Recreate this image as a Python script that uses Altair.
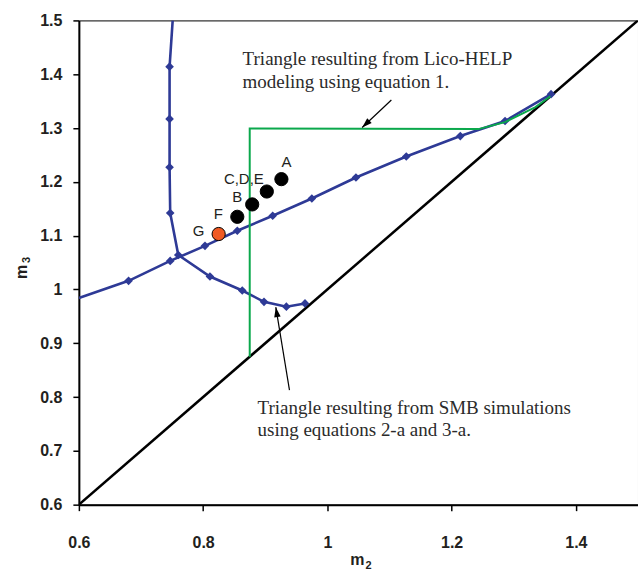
import math
import altair as alt
import pandas as pd

# ---------------- data ----------------
x_ticks = [0.6, 0.8, 1.0, 1.2, 1.4]
y_ticks = [0.6, 0.7, 0.8, 0.9, 1.0, 1.1, 1.2, 1.3, 1.4, 1.5]

# SMB-simulation triangle (blue, diamond markers)
left_m2 = [0.751, 0.746, 0.746, 0.746, 0.747, 0.760]
left_m3 = [1.500, 1.414, 1.317, 1.227, 1.142, 1.064]

mid_m2 = [0.600, 0.680, 0.747, 0.803, 0.855, 0.912, 0.975, 1.046, 1.127, 1.214, 1.286, 1.360]
mid_m3 = [0.984, 1.016, 1.053, 1.081, 1.109, 1.137, 1.169, 1.208, 1.247, 1.285, 1.313, 1.363]

low_m2 = [0.760, 0.811, 0.863, 0.898, 0.934, 0.964]
low_m3 = [1.064, 1.024, 0.998, 0.977, 0.968, 0.974]

# Lico-HELP triangle (green)
green_m2 = [0.875, 0.875, 1.243, 1.286, 1.335, 1.359]
green_m3 = [0.875, 1.299, 1.298, 1.311, 1.339, 1.359]

# diagonal m3 = m2
diag_m2 = [0.6, 1.5]
diag_m3 = [0.6, 1.5]

# operating points
pt_labels = ["A", "C,D,E", "B", "F", "G"]
pt_m2 = [0.926, 0.9025, 0.879, 0.855, 0.825]
pt_m3 = [1.205, 1.182, 1.158, 1.135, 1.103]
pt_kind = ["exp", "exp", "exp", "exp", "G"]

# annotation arrows (tail -> tip)
arrow_tail_m2 = [1.103, 0.939]
arrow_tail_m3 = [1.352, 0.813]
arrow_tip_m2 = [1.056, 0.917]
arrow_tip_m3 = [1.301, 0.967]

note1 = ["Triangle resulting from Lico-HELP", "modeling using equation 1."]
note2 = ["Triangle resulting from SMB simulations", "using equations 2-a and 3-a."]

x_title, x_sub = "m", "2"
y_title, y_sub = "m", "3"

# ---------------- styles ----------------
W, H = 560, 485
PAD_L, PAD_T = 79, 20
BLUE = "#2E3A96"
GREEN = "#0BA84C"
ORANGE = "#F05A24"
TXT = "#231F20"
label_offsets = {"A": (5, -17), "C,D,E": (-23, -13), "B": (-15, -7), "F": (-19, -3), "G": (-20, -3)}

# ---------------- tables ----------------
rows = []
for name, xs, ys in [("left", left_m2, left_m3), ("mid", mid_m2, mid_m3), ("low", low_m2, low_m3)]:
    for i, (a, b) in enumerate(zip(xs, ys)):
        rows.append({"series": name, "idx": i, "m2": a, "m3": b})
blue_df = pd.DataFrame(rows)

mrows = []
for xs, ys in [(left_m2[1:], left_m3[1:]), (mid_m2[1:], mid_m3[1:]), (low_m2[1:], low_m3[1:])]:
    for a, b in zip(xs, ys):
        mrows.append({"m2": a, "m3": b})
marker_df = pd.DataFrame(mrows)

green_df = pd.DataFrame({"idx": list(range(len(green_m2))), "m2": green_m2, "m3": green_m3})
diag_df = pd.DataFrame({"m2": diag_m2, "m3": diag_m3})
pts_df = pd.DataFrame({"label": pt_labels, "m2": pt_m2, "m3": pt_m3, "kind": pt_kind})

sx, sy = W / 0.9, H / 0.9
arr_rows, head_rows = [], []
for tx, ty, hx, hy in zip(arrow_tail_m2, arrow_tail_m3, arrow_tip_m2, arrow_tip_m3):
    arr_rows.append({"m2": tx, "m3": ty, "m2b": hx, "m3b": hy})
    dxp = (hx - tx) * sx
    dyp = -(hy - ty) * sy
    L = math.hypot(dxp, dyp)
    ux, uy = dxp / L, dyp / L
    ang = math.degrees(math.atan2(ux, -uy)) % 360
    back = 5
    head_rows.append({"m2": hx - back * ux / sx, "m3": hy + back * uy / sy, "ang": ang})
arr_df = pd.DataFrame(arr_rows)
head_df = pd.DataFrame(head_rows)

# ---------------- encodings ----------------
X = alt.X("m2:Q", scale=alt.Scale(domain=[0.6, 1.5], nice=False, zero=False),
          axis=alt.Axis(values=x_ticks, format="~g", title=None, labelPadding=24,
                        tickSize=6, labelFlush=False))
Y = alt.Y("m3:Q", scale=alt.Scale(domain=[0.6, 1.5], nice=False, zero=False),
          axis=alt.Axis(values=y_ticks, format="~g", title=None, labelPadding=11,
                        tickSize=6, labelFlush=False))

diag = alt.Chart(diag_df).mark_line(color="black", strokeWidth=2.5, clip=True).encode(x=X, y=Y)

blue = alt.Chart(blue_df).mark_line(color=BLUE, strokeWidth=2.6, clip=True).encode(
    x=X, y=Y, detail="series:N", order="idx:Q")
markers = alt.Chart(marker_df).mark_point(shape="diamond", filled=True, color=BLUE,
                                          size=75, opacity=1).encode(x=X, y=Y)
green = alt.Chart(green_df).mark_line(color=GREEN, strokeWidth=2, clip=True).encode(
    x=X, y=Y, order="idx:Q")

pts = alt.Chart(pts_df).mark_point(filled=True, size=175, stroke="black", strokeWidth=1,
                                   opacity=1, shape="circle").encode(
    x=X, y=Y,
    fill=alt.Fill("kind:N", scale=alt.Scale(domain=["exp", "G"], range=["black", ORANGE]), legend=None))

labels = []
for lab in pt_labels:
    dx, dy = label_offsets[lab]
    labels.append(
        alt.Chart(pts_df).transform_filter(alt.datum.label == lab).mark_text(
            font="Liberation Sans", fontSize=15, color=TXT, dx=dx, dy=dy,
            align="center", baseline="middle").encode(x=X, y=Y, text="label:N"))

arrows = alt.Chart(arr_df).mark_rule(color="black", strokeWidth=1.2).encode(
    x=X, y=Y, x2="m2b:Q", y2="m3b:Q")
heads = alt.Chart(head_df).mark_point(shape="M0,-1L-0.65,1L0.65,1Z", filled=True, color="black",
                                      size=100, opacity=1).encode(
    x=X, y=Y, angle=alt.Angle("ang:Q", scale=None))

notes = []
for lines, x0, y0 in [(note1, 243, 65), (note2, 258, 414)]:
    for k, t in enumerate(lines):
        notes.append(alt.Chart(pd.DataFrame({"t": [t]})).mark_text(
            font="Liberation Serif", fontSize=19, color="#2b2b2b", align="left",
            baseline="alphabetic").encode(
            x=alt.value(x0 - PAD_L), y=alt.value(y0 + 22.5 * k - PAD_T), text="t:N"))


def title_text(txt, px, py, size, align, angle=0):
    return alt.Chart(pd.DataFrame({"t": [txt]})).mark_text(
        font="Liberation Sans", fontWeight="bold", fontSize=size, color=TXT,
        align=align, baseline="alphabetic", angle=angle).encode(
        x=alt.value(px - PAD_L), y=alt.value(py - PAD_T), text="t:N")


titles = [
    title_text(x_title, 358, 565, 16, "center"),
    title_text(x_sub, 366, 569, 11, "left"),
    title_text(y_title, 27, 272, 16, "center", 270),
    title_text(y_sub, 30, 263, 11, "left", 270),
]

chart = alt.layer(diag, blue, markers, green, pts, *labels, arrows, heads, *notes, *titles).properties(
    width=W, height=H,
    autosize=alt.AutoSizeParams(type="none"),
    padding={"left": PAD_L, "top": PAD_T, "right": 0, "bottom": 65},
    background="white",
).configure_view(stroke="black", strokeWidth=1).configure_axis(
    grid=False, domainColor="black", domainWidth=2, tickColor="black", tickWidth=1.5,
    labelFont="Liberation Sans", labelFontWeight="bold", labelFontSize=16, labelColor=TXT,
)

chart.save("out.html", embed_options={"renderer": "svg", "actions": False})
